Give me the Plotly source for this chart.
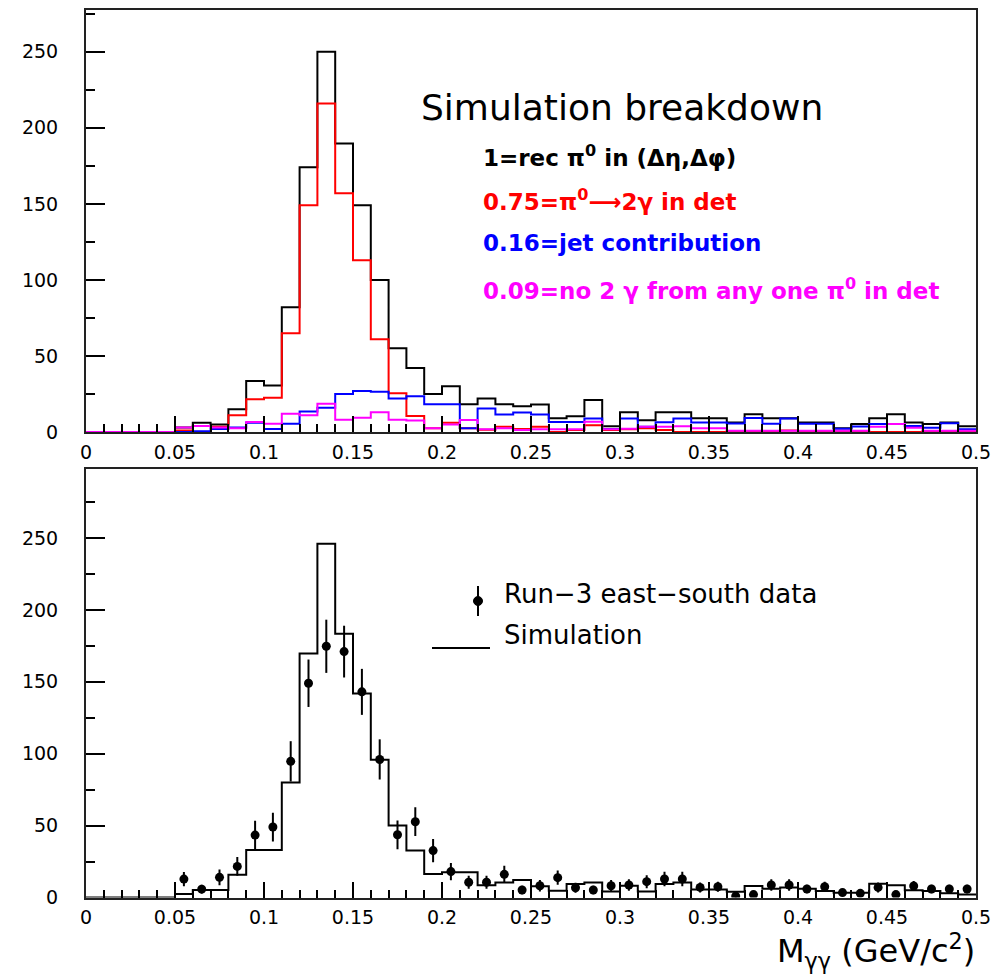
import numpy as np
import plotly.graph_objects as go

# Binning of the diphoton invariant mass (GeV/c^2)
n_bins = 50
m_lo, m_hi = 0.0, 0.5
edges = np.linspace(m_lo, m_hi, n_bins + 1)
centers = 0.5 * (edges[:-1] + edges[1:])

# Upper panel: simulation breakdown
sim_total = [0, 0, 0, 0, 0, 3, 6, 5, 15, 33.5,
             30.6, 82, 174, 250, 189.6, 149, 100, 55, 42, 25,
             30, 18.3, 22, 18.3, 17, 18, 9, 10.4, 21, 3.8,
             13, 7.8, 13, 13, 9, 9, 6.2, 11.7, 9, 9,
             6.2, 6.2, 2.5, 5.2, 9, 11.6, 6.2, 5.2, 6.2, 3.8]
sim_pi0_2gamma = [0, 0, 0, 0, 0, 1, 4, 3.5, 11, 21.5,
                  22.5, 65, 149, 216, 157, 113, 61, 25.5, 10.5, 2.5,
                  6, 2.5, 1.5, 3.5, 2, 3.5, 0, 1.3, 4.5, 1.3,
                  1.8, 2.4, 1.3, 0, 0, 0, 0.6, 0.6, 0.6, 1,
                  0.6, 0, 0, 0.6, 0, 0, 0, 0.6, 0.6, 0]
sim_jet = [0, 0, 0, 0, 0, 0, 0.5, 2, 3, 6,
           2, 5.5, 13.5, 16, 25, 27, 26.5, 22, 23.5, 18.3,
           18.3, 2.4, 15.4, 11.5, 12.8, 11.5, 6.5, 6.5, 8.9, 2,
           8.9, 3.4, 6.4, 8.9, 6.2, 6.2, 5.6, 9.2, 5.4, 8.9,
           5.4, 5.4, 2.1, 3.6, 5.2, 5.2, 3.9, 2.8, 5.7, 1.8]
sim_no_pair = [0, 0, 0, 0, 0, 3, 4, 3, 2.5, 6.5,
               5.5, 12, 11, 18.6, 8, 9.4, 13, 8, 7.5, 2.4,
               5, 7.9, 1.8, 2.4, 1.3, 1.8, 1.8, 1.8, 6.8, 1.8,
               2.2, 3.5, 3.5, 3.7, 2.4, 2.4, 0.9, 0.9, 0.9, 0.9,
               0.9, 0.9, 0.9, 0.9, 3.5, 5.3, 2.8, 0.9, 0.9, 0.9]

# Lower panel: simulation compared with Run-3 east-south data
sim_compare = [0, 0, 0, 0, 0, 2.5, 5.3, 5.3, 15.8, 33,
               33, 80, 169.6, 246, 183.5, 141.8, 95.8, 50, 32.6, 16.3,
               17.5, 17.5, 8.5, 10.4, 12.1, 7.8, 4.7, 9.4, 10.5, 4.2,
               8.2, 4.2, 9.4, 10.5, 5.5, 5.5, 4, 8, 6, 7,
               6, 4.5, 3.3, 3.3, 9.5, 8.5, 5, 4.5, 3, 2]
data_counts = [None, None, None, None, None, 12.8, 5.8, 14, 21.6, 43.4,
               49, 94.7, 149, 174.7, 171, 143, 96, 43.6, 52.7, 32.6,
               18, 10.6, 10.6, 16.1, 5.2, 8.2, 13.8, 6.8, 5.2, 8.2,
               8.7, 11, 12.9, 12.9, 7, 7.5, 1, 2, 8.7, 8.7,
               5.9, 7.5, 3.4, 2.9, 7, 2, 8, 5.9, 5.9, 5.9]
data_errors = [0, 0, 0, 0, 0, 5, 3, 5.5, 6.5, 10,
               10, 14, 16.5, 18.5, 18, 16, 14, 10, 10, 8,
               6, 4.5, 4.5, 6, 3, 4, 5, 3.5, 3, 4,
               4, 4.5, 5, 5, 3.5, 3.5, 1, 1.5, 4, 4,
               3, 3.5, 2, 2, 3.5, 1.5, 3.5, 3, 3, 3]

tick_values = [0, 0.05, 0.1, 0.15, 0.2, 0.25, 0.3, 0.35, 0.4, 0.45, 0.5]
tick_labels = ["0", "0.05", "0.1", "0.15", "0.2", "0.25", "0.3", "0.35", "0.4", "0.45", "0.5"]

W, H = 1005, 977
FONT = "DejaVu Sans, Liberation Sans, sans-serif"


def px(x):
    return x / W


def py(y):
    return 1 - y / H


def step(vals):
    vals = [0 if v is None else v for v in vals]
    return vals + [vals[-1]]


fig = go.Figure()

# upper panel histograms
for vals, color in [(sim_total, "black"), (sim_pi0_2gamma, "#ff0000"),
                    (sim_jet, "#0000ff"), (sim_no_pair, "#ff00ff")]:
    fig.add_trace(go.Scatter(x=edges, y=step(vals), mode="lines",
                             line=dict(shape="hv", color=color, width=2),
                             xaxis="x", yaxis="y", showlegend=False,
                             hoverinfo="skip"))

# lower panel: simulation histogram and data points
fig.add_trace(go.Scatter(x=edges, y=step(sim_compare), mode="lines",
                         line=dict(shape="hv", color="black", width=2),
                         xaxis="x2", yaxis="y2", showlegend=False))
fig.add_trace(go.Scatter(x=centers, y=data_counts, mode="markers",
                         marker=dict(color="black", size=9, symbol="circle"),
                         error_y=dict(type="data", array=data_errors, width=0,
                                      thickness=2, color="black"),
                         xaxis="x2", yaxis="y2", showlegend=False))

x_dom = [px(86), px(976)]


def xaxis_cfg(anchor):
    return dict(domain=x_dom, anchor=anchor, range=[m_lo, m_hi],
                tickvals=tick_values, ticktext=tick_labels,
                ticks="inside", ticklen=16, tickwidth=2, tickcolor="black",
                minor=dict(dtick=0.01, tick0=0, ticks="inside", ticklen=8,
                           tickwidth=2, tickcolor="black"),
                showline=True, mirror=True, linecolor="#222", linewidth=2,
                showgrid=False, zeroline=False, ticklabelstandoff=2,
                tickfont=dict(family=FONT, size=19, color="black"))


def yaxis_cfg(anchor, domain, top):
    return dict(domain=domain, anchor=anchor, range=[0, top],
                tickvals=[0, 50, 100, 150, 200, 250],
                ticks="inside", ticklen=19, tickwidth=2, tickcolor="black",
                minor=dict(dtick=25, tick0=0, ticks="inside", ticklen=9,
                           tickwidth=2, tickcolor="black"),
                showline=True, mirror=True, linecolor="#222", linewidth=2,
                showgrid=False, zeroline=False, ticklabelstandoff=22,
                tickfont=dict(family=FONT, size=19, color="black"))


annotations = []


def label(text, x, y, size, color="black", anchor="left"):
    annotations.append(dict(text=text, x=px(x), y=py(y), xref="paper", yref="paper",
                            xanchor=anchor, yanchor="middle", showarrow=False,
                            font=dict(family=FONT, size=size, color=color)))


label("Simulation breakdown", 419, 108, 36)
label("<b>1=rec π<sup>0</sup> in (Δη,Δφ)</b>", 481, 156, 23)
label("<b>0.75=π<sup>0</sup>⟶2γ in det</b>", 481, 200, 23, "#ff0000")
label("<b>0.16=jet contribution</b>", 481, 243, 23, "#0000ff")
label("<b>0.09=no 2 γ from any one π<sup>0</sup> in det</b>", 481, 289, 23, "#ff00ff")

label("Run−3 east−south data", 502, 594, 26)
label("Simulation", 502, 635, 26)
label("M<sub>γγ</sub> (GeV/c<sup>2</sup>)", 977, 951, 32, anchor="right")

shapes = [
    # data marker sample in the lower legend
    dict(type="line", xref="paper", yref="paper", x0=px(478), x1=px(478),
         y0=py(586), y1=py(616), line=dict(color="black", width=2)),
    dict(type="circle", xref="paper", yref="paper", x0=px(473.5), x1=px(482.5),
         y0=py(596.5), y1=py(605.5), fillcolor="black", line=dict(color="black", width=1)),
    # simulation line sample in the lower legend
    dict(type="line", xref="paper", yref="paper", x0=px(432), x1=px(490),
         y0=py(648), y1=py(648), line=dict(color="black", width=2)),
]

fig.update_layout(
    width=W, height=H,
    margin=dict(l=0, r=0, t=0, b=0, autoexpand=False),
    paper_bgcolor="white", plot_bgcolor="white",
    xaxis=xaxis_cfg("y"),
    yaxis=yaxis_cfg("x", [py(432), py(10)], (432 - 10) / 1.521),
    xaxis2=xaxis_cfg("y2"),
    yaxis2=yaxis_cfg("x2", [py(897.5), py(469)], (897.5 - 469) / 1.438),
    annotations=annotations,
    shapes=shapes,
    showlegend=False,
)

fig.write_html("out.html")
